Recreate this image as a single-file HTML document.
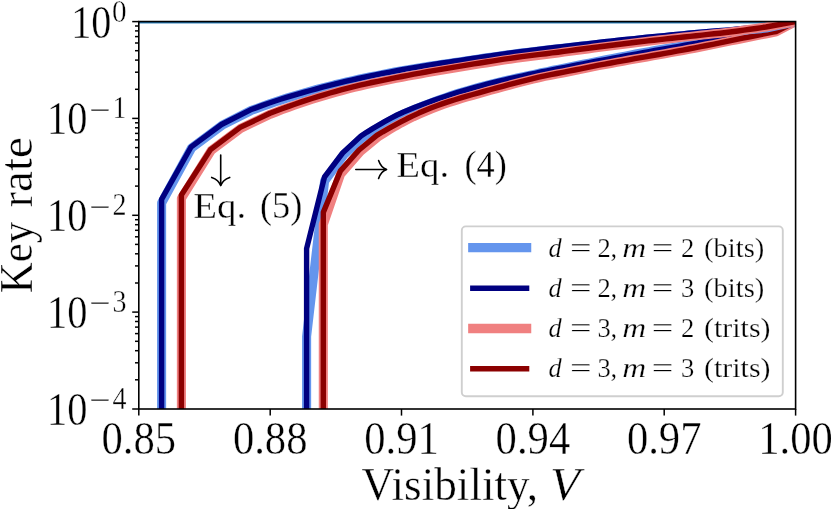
<!DOCTYPE html>
<html><head><meta charset="utf-8"><title>Key rate vs visibility</title>
<style>
html,body{margin:0;padding:0;background:#fff;}
body{width:831px;height:509px;overflow:hidden;position:relative;font-family:"Liberation Serif",serif;}
</style></head><body>
<svg width="831" height="509" viewBox="0 0 831 509" style="position:absolute;left:0;top:0;will-change:transform">
<defs><clipPath id="ax"><rect x="138.8" y="21.6" width="656.8" height="387.4"/></clipPath></defs>
<rect x="0" y="0" width="831" height="509" fill="#fff"/>
<g clip-path="url(#ax)">
<rect x="138.8" y="21.55" width="656.8" height="1.9" fill="#1f77b4"/>
<path d="M306.6 413.0 L306.6 336.4 L324.6 181.0 L344.2 154.4 L362.4 137.6 L368.1 133.9 L374.1 130.2 L380.0 126.7 L386.0 123.2 L392.0 119.9 L397.9 116.8 L403.8 114.0 L409.7 111.4 L415.6 108.9 L421.6 106.6 L427.5 104.2 L433.5 102.0 L439.4 99.8 L445.4 97.7 L451.3 95.6 L457.3 93.7 L463.3 91.8 L469.3 90.1 L475.3 88.4 L481.3 86.7 L487.3 85.2 L493.2 83.6 L499.2 82.2 L505.2 80.8 L511.2 79.4 L517.2 78.0 L523.2 76.7 L529.2 75.4 L535.2 74.1 L541.2 72.8 L547.2 71.6 L553.1 70.3 L559.1 69.1 L565.1 67.9 L571.1 66.7 L577.1 65.5 L583.1 64.3 L589.1 63.1 L595.1 61.9 L601.1 60.7 L607.1 59.6 L613.0 58.4 L619.0 57.3 L625.0 56.1 L631.0 55.0 L637.0 53.8 L643.0 52.7 L649.0 51.7 L655.0 50.6 L661.0 49.6 L667.0 48.5 L673.0 47.5 L679.0 46.5 L685.0 45.4 L691.0 44.4 L697.1 43.4 L703.1 42.3 L709.1 41.2 L715.1 40.1 L721.1 39.0 L727.1 37.9 L733.1 36.8 L739.1 35.7 L745.1 34.7 L751.0 33.7 L757.0 32.7 L763.0 31.7 L769.0 30.8 L775.0 29.9 L777.6 29.4 L795.6 21.6" fill="none" stroke="#6495ED" stroke-width="9.1" stroke-linejoin="round" stroke-linecap="square"/>
<path d="M306.6 413.0 L306.6 248.6 L324.5 177.0 L342.6 153.0 L361.0 136.0 L367.0 132.1 L373.0 128.4 L379.0 124.9 L385.0 121.4 L391.0 118.1 L397.0 115.0 L403.0 112.2 L409.0 109.7 L415.0 107.3 L421.0 105.0 L427.0 102.8 L433.0 100.6 L439.0 98.5 L445.0 96.5 L451.0 94.5 L457.0 92.7 L463.0 90.9 L469.0 89.1 L475.0 87.4 L481.0 85.8 L487.0 84.2 L493.0 82.7 L499.0 81.2 L505.0 79.8 L511.0 78.4 L517.0 77.1 L523.0 75.8 L529.0 74.5 L535.0 73.3 L541.0 72.0 L547.0 70.8 L553.0 69.6 L559.0 68.4 L565.0 67.3 L571.0 66.1 L577.0 65.0 L583.0 63.8 L589.0 62.7 L595.0 61.5 L601.0 60.4 L607.0 59.3 L613.0 58.2 L619.0 57.1 L625.0 56.0 L631.0 54.9 L637.0 53.8 L643.0 52.7 L649.0 51.6 L655.0 50.5 L661.0 49.5 L667.0 48.4 L673.0 47.3 L679.0 46.3 L685.0 45.2 L691.0 44.1 L697.0 43.1 L703.0 42.0 L709.0 40.9 L715.0 39.8 L721.0 38.7 L727.0 37.6 L733.0 36.5 L739.0 35.4 L745.0 34.4 L751.0 33.4 L757.0 32.4 L763.0 31.5 L769.0 30.5 L775.0 29.6 L777.5 29.2 L795.6 21.6" fill="none" stroke="#000080" stroke-width="5.4" stroke-linejoin="round" stroke-linecap="square"/>
<path d="M323.3 413.0 L323.3 224.5 L340.5 174.2 L360.3 151.4 L377.9 136.9 L383.6 133.3 L389.5 129.7 L395.4 126.2 L401.3 122.9 L407.3 119.8 L413.3 116.8 L419.2 114.1 L425.2 111.5 L431.2 109.0 L437.1 106.7 L443.1 104.5 L449.1 102.5 L455.1 100.6 L461.1 98.7 L467.0 97.0 L473.0 95.3 L479.0 93.6 L485.0 91.9 L491.0 90.2 L497.0 88.6 L503.0 86.9 L509.0 85.3 L515.0 83.7 L520.9 82.2 L526.9 80.7 L532.9 79.2 L538.9 77.8 L544.9 76.4 L550.9 75.2 L556.9 74.0 L562.9 72.9 L568.9 71.7 L574.9 70.5 L580.9 69.3 L586.9 68.0 L592.9 66.8 L598.9 65.6 L604.9 64.5 L610.9 63.4 L616.9 62.3 L622.9 61.2 L628.9 60.1 L634.9 59.1 L640.9 58.0 L646.9 56.9 L652.9 55.8 L658.9 54.8 L664.9 53.7 L670.9 52.6 L676.9 51.5 L682.9 50.4 L688.9 49.3 L694.9 48.2 L700.9 47.0 L706.9 45.8 L712.9 44.6 L718.9 43.4 L724.9 42.1 L730.9 40.9 L736.9 39.7 L742.9 38.5 L748.9 37.3 L754.9 36.1 L760.9 34.9 L766.9 33.7 L772.9 32.5 L776.3 31.8 L795.6 21.6" fill="none" stroke="#F08080" stroke-width="9.1" stroke-linejoin="round" stroke-linecap="square"/>
<path d="M323.3 413.0 L323.3 212.4 L340.4 170.9 L359.0 150.0 L376.8 135.4 L382.8 131.8 L388.8 128.4 L394.8 125.1 L400.8 121.9 L406.8 118.8 L412.8 115.9 L418.8 113.1 L424.8 110.5 L430.8 108.1 L436.8 105.8 L442.8 103.6 L448.8 101.6 L454.8 99.7 L460.8 97.9 L466.8 96.1 L472.8 94.5 L478.8 92.8 L484.8 91.1 L490.8 89.5 L496.8 87.9 L502.8 86.3 L508.8 84.7 L514.8 83.1 L520.8 81.6 L526.8 80.1 L532.8 78.6 L538.8 77.2 L544.8 75.9 L550.8 74.7 L556.8 73.5 L562.8 72.4 L568.8 71.2 L574.8 70.0 L580.8 68.8 L586.8 67.6 L592.8 66.4 L598.8 65.2 L604.8 64.1 L610.8 63.0 L616.8 61.9 L622.8 60.9 L628.8 59.8 L634.8 58.7 L640.8 57.7 L646.8 56.6 L652.8 55.5 L658.8 54.5 L664.8 53.4 L670.8 52.3 L676.8 51.2 L682.8 50.1 L688.8 49.0 L694.8 47.9 L700.8 46.7 L706.8 45.5 L712.8 44.3 L718.8 43.1 L724.8 41.9 L730.8 40.6 L736.8 39.4 L742.8 38.2 L748.8 37.0 L754.8 35.8 L760.8 34.6 L766.8 33.4 L772.8 32.2 L776.2 31.5 L795.6 21.6" fill="none" stroke="#8B0000" stroke-width="5.4" stroke-linejoin="round" stroke-linecap="square"/>
<path d="M161.6 413.0 L161.6 203.0 L191.7 147.8 L222.0 125.3 L250.9 110.6 L256.8 108.4 L262.8 106.2 L268.8 104.1 L274.8 102.0 L280.7 100.1 L286.7 98.2 L292.7 96.3 L298.7 94.5 L304.7 92.8 L310.7 91.2 L316.7 89.5 L322.7 87.9 L328.7 86.4 L334.7 84.8 L340.7 83.4 L346.7 82.0 L352.7 80.6 L358.7 79.3 L364.7 78.0 L370.7 76.8 L376.7 75.6 L382.7 74.4 L388.7 73.2 L394.7 72.1 L400.7 71.0 L406.7 70.0 L412.7 69.0 L418.7 68.0 L424.7 67.0 L430.7 66.1 L436.7 65.2 L442.7 64.3 L448.7 63.4 L454.7 62.6 L460.7 61.7 L466.7 60.8 L472.7 59.9 L478.7 59.0 L484.7 58.1 L490.7 57.2 L496.7 56.4 L502.7 55.5 L508.7 54.7 L514.7 53.9 L520.7 53.1 L526.7 52.4 L532.7 51.7 L538.7 51.0 L544.7 50.3 L550.7 49.6 L556.7 48.9 L562.7 48.2 L568.7 47.6 L574.7 46.9 L580.7 46.2 L586.7 45.6 L592.7 44.9 L598.7 44.3 L604.7 43.6 L610.7 43.0 L616.7 42.4 L622.7 41.7 L628.7 41.1 L634.7 40.5 L640.7 39.9 L646.7 39.3 L652.7 38.7 L658.7 38.1 L664.7 37.5 L670.7 36.9 L676.7 36.3 L682.7 35.7 L688.7 35.1 L694.7 34.6 L700.6 34.0 L706.6 33.5 L712.6 33.0 L718.6 32.5 L724.6 32.0 L730.6 31.5 L736.6 31.0 L742.6 30.4 L748.7 29.8 L754.7 29.2 L760.7 28.6 L766.2 28.0 L795.6 21.6" fill="none" stroke="#6495ED" stroke-width="9.1" stroke-linejoin="round" stroke-linecap="square"/>
<path d="M161.6 413.0 L161.6 199.4 L190.9 147.2 L221.5 124.5 L250.5 109.8 L256.5 107.6 L262.5 105.4 L268.5 103.3 L274.5 101.3 L280.5 99.3 L286.5 97.4 L292.5 95.6 L298.5 93.9 L304.5 92.1 L310.5 90.5 L316.5 88.8 L322.5 87.2 L328.5 85.6 L334.5 84.1 L340.5 82.6 L346.5 81.2 L352.5 79.8 L358.5 78.5 L364.5 77.2 L370.5 75.9 L376.5 74.7 L382.5 73.4 L388.5 72.3 L394.5 71.1 L400.5 70.0 L406.5 68.9 L412.5 67.9 L418.5 66.9 L424.5 65.9 L430.5 64.9 L436.5 64.0 L442.5 63.0 L448.5 62.1 L454.5 61.2 L460.5 60.3 L466.5 59.4 L472.5 58.5 L478.5 57.6 L484.5 56.7 L490.5 55.8 L496.5 55.0 L502.5 54.1 L508.5 53.3 L514.5 52.5 L520.5 51.7 L526.5 51.0 L532.5 50.2 L538.5 49.5 L544.5 48.8 L550.5 48.0 L556.5 47.3 L562.5 46.6 L568.5 45.9 L574.5 45.2 L580.5 44.5 L586.5 43.9 L592.5 43.2 L598.5 42.5 L604.5 41.8 L610.5 41.1 L616.5 40.5 L622.5 39.8 L628.5 39.2 L634.5 38.6 L640.5 37.9 L646.5 37.3 L652.5 36.7 L658.5 36.1 L664.5 35.6 L670.5 35.0 L676.5 34.4 L682.5 33.9 L688.5 33.3 L694.5 32.8 L700.5 32.3 L706.5 31.8 L712.5 31.3 L718.5 30.8 L724.5 30.4 L730.5 29.9 L736.5 29.3 L742.5 28.8 L748.5 28.2 L754.5 27.6 L760.5 27.1 L766.0 26.5 L795.6 21.6" fill="none" stroke="#000080" stroke-width="5.4" stroke-linejoin="round" stroke-linecap="square"/>
<path d="M181.4 413.0 L181.4 198.3 L211.3 150.3 L240.7 128.3 L270.4 114.2 L276.3 111.9 L282.3 109.6 L288.3 107.4 L294.3 105.3 L300.3 103.3 L306.3 101.3 L312.3 99.3 L318.2 97.4 L324.2 95.6 L330.2 93.8 L336.2 92.1 L342.2 90.5 L348.2 88.9 L354.2 87.4 L360.2 86.0 L366.2 84.6 L372.2 83.3 L378.2 82.0 L384.2 80.8 L390.1 79.6 L396.1 78.4 L402.1 77.2 L408.1 76.1 L414.1 75.0 L420.1 73.9 L426.1 72.8 L432.1 71.7 L438.1 70.7 L444.1 69.7 L450.1 68.7 L456.1 67.7 L462.1 66.7 L468.1 65.7 L474.1 64.8 L480.1 63.8 L486.1 62.9 L492.1 61.9 L498.1 61.0 L504.1 60.1 L510.1 59.2 L516.1 58.3 L522.1 57.5 L528.1 56.7 L534.1 56.0 L540.1 55.2 L546.1 54.5 L552.1 53.7 L558.1 52.9 L564.1 52.1 L570.1 51.3 L576.1 50.5 L582.1 49.7 L588.1 48.9 L594.1 48.1 L600.1 47.3 L606.1 46.5 L612.1 45.8 L618.1 45.0 L624.1 44.2 L630.1 43.4 L636.0 42.7 L642.0 42.0 L648.0 41.2 L654.0 40.5 L660.0 39.8 L666.0 39.2 L672.0 38.5 L678.0 37.8 L684.0 37.1 L690.0 36.4 L696.0 35.8 L702.0 35.1 L708.0 34.4 L714.0 33.8 L720.0 33.2 L726.0 32.5 L732.0 31.8 L738.0 31.0 L744.0 30.1 L750.0 29.3 L756.0 28.5 L762.0 27.6 L766.0 27.0 L795.6 21.6" fill="none" stroke="#F08080" stroke-width="9.1" stroke-linejoin="round" stroke-linecap="square"/>
<path d="M181.4 413.0 L181.4 195.0 L210.5 149.6 L240.2 127.4 L270.0 113.3 L276.0 111.0 L282.0 108.8 L288.0 106.6 L294.0 104.5 L300.0 102.4 L306.0 100.4 L312.0 98.5 L318.0 96.6 L324.0 94.8 L330.0 93.0 L336.0 91.3 L342.0 89.7 L348.0 88.1 L354.0 86.6 L360.0 85.2 L366.0 83.8 L372.0 82.5 L378.0 81.3 L384.0 80.1 L390.0 78.9 L396.0 77.7 L402.0 76.5 L408.0 75.4 L414.0 74.2 L420.0 73.1 L426.0 72.0 L432.0 70.9 L438.0 69.9 L444.0 68.9 L450.0 67.9 L456.0 66.9 L462.0 65.9 L468.0 64.9 L474.0 63.9 L480.0 63.0 L486.0 62.0 L492.0 61.1 L498.0 60.2 L504.0 59.2 L510.0 58.3 L516.0 57.5 L522.0 56.6 L528.0 55.9 L534.0 55.1 L540.0 54.4 L546.0 53.7 L552.0 52.9 L558.0 52.2 L564.0 51.4 L570.0 50.6 L576.0 49.8 L582.0 49.0 L588.0 48.3 L594.0 47.5 L600.0 46.8 L606.0 46.0 L612.0 45.2 L618.0 44.5 L624.0 43.7 L630.0 43.0 L636.0 42.3 L642.0 41.6 L648.0 40.9 L654.0 40.2 L660.0 39.6 L666.0 38.9 L672.0 38.3 L678.0 37.6 L684.0 37.0 L690.0 36.4 L696.0 35.7 L702.0 35.1 L708.0 34.4 L714.0 33.8 L720.0 33.2 L726.0 32.5 L732.0 31.8 L738.0 31.0 L744.0 30.1 L750.0 29.3 L756.0 28.5 L762.0 27.6 L766.0 27.0 L795.6 21.6" fill="none" stroke="#8B0000" stroke-width="5.4" stroke-linejoin="round" stroke-linecap="square"/>
</g>
<g stroke="#000" stroke-width="1.5"><line x1="138.8" y1="409.0" x2="138.8" y2="415.6"/><line x1="270.2" y1="409.0" x2="270.2" y2="415.6"/><line x1="401.5" y1="409.0" x2="401.5" y2="415.6"/><line x1="532.9" y1="409.0" x2="532.9" y2="415.6"/><line x1="664.2" y1="409.0" x2="664.2" y2="415.6"/><line x1="795.6" y1="409.0" x2="795.6" y2="415.6"/><line x1="132.2" y1="21.6" x2="138.8" y2="21.6"/><line x1="135.0" y1="89.3" x2="138.8" y2="89.3"/><line x1="135.0" y1="72.2" x2="138.8" y2="72.2"/><line x1="135.0" y1="60.1" x2="138.8" y2="60.1"/><line x1="135.0" y1="50.7" x2="138.8" y2="50.7"/><line x1="135.0" y1="43.0" x2="138.8" y2="43.0"/><line x1="135.0" y1="36.6" x2="138.8" y2="36.6"/><line x1="135.0" y1="30.9" x2="138.8" y2="30.9"/><line x1="135.0" y1="26.0" x2="138.8" y2="26.0"/><line x1="132.2" y1="118.4" x2="138.8" y2="118.4"/><line x1="135.0" y1="186.1" x2="138.8" y2="186.1"/><line x1="135.0" y1="169.1" x2="138.8" y2="169.1"/><line x1="135.0" y1="157.0" x2="138.8" y2="157.0"/><line x1="135.0" y1="147.6" x2="138.8" y2="147.6"/><line x1="135.0" y1="139.9" x2="138.8" y2="139.9"/><line x1="135.0" y1="133.4" x2="138.8" y2="133.4"/><line x1="135.0" y1="127.8" x2="138.8" y2="127.8"/><line x1="135.0" y1="122.8" x2="138.8" y2="122.8"/><line x1="132.2" y1="215.3" x2="138.8" y2="215.3"/><line x1="135.0" y1="283.0" x2="138.8" y2="283.0"/><line x1="135.0" y1="265.9" x2="138.8" y2="265.9"/><line x1="135.0" y1="253.8" x2="138.8" y2="253.8"/><line x1="135.0" y1="244.4" x2="138.8" y2="244.4"/><line x1="135.0" y1="236.8" x2="138.8" y2="236.8"/><line x1="135.0" y1="230.3" x2="138.8" y2="230.3"/><line x1="135.0" y1="224.7" x2="138.8" y2="224.7"/><line x1="135.0" y1="219.7" x2="138.8" y2="219.7"/><line x1="132.2" y1="312.1" x2="138.8" y2="312.1"/><line x1="135.0" y1="379.8" x2="138.8" y2="379.8"/><line x1="135.0" y1="362.8" x2="138.8" y2="362.8"/><line x1="135.0" y1="350.7" x2="138.8" y2="350.7"/><line x1="135.0" y1="341.3" x2="138.8" y2="341.3"/><line x1="135.0" y1="333.6" x2="138.8" y2="333.6"/><line x1="135.0" y1="327.1" x2="138.8" y2="327.1"/><line x1="135.0" y1="321.5" x2="138.8" y2="321.5"/><line x1="135.0" y1="316.6" x2="138.8" y2="316.6"/><line x1="132.2" y1="409.0" x2="138.8" y2="409.0"/></g>
<rect x="138.80" y="21.55" width="656.80" height="387.45" fill="none" stroke="#000" stroke-width="1.6"/>
<rect x="461.8" y="226.4" width="321.0" height="169.8" rx="4" ry="4" fill="#fff" fill-opacity="0.8" stroke="#cfcfcf" stroke-width="1.9"/>
<line x1="472.8" y1="247.6" x2="526.6" y2="247.6" stroke="#6495ED" stroke-width="9.3" stroke-linecap="square"/>
<g font-family="'Liberation Serif', serif" font-size="26.5" fill="#000" stroke="#fff" stroke-width="0.25"><text x="548.6" y="256.7" font-style="italic">d</text><text x="570.0" y="256.7" textLength="21.6" lengthAdjust="spacingAndGlyphs">=</text><text x="597.4" y="256.7">2</text><text x="610.6" y="256.7">,</text><text x="622.3" y="256.7" font-style="italic" textLength="24" lengthAdjust="spacingAndGlyphs">m</text><text x="651.8" y="256.7" textLength="21.6" lengthAdjust="spacingAndGlyphs">=</text><text x="680.9" y="256.7">2</text><text x="704.0" y="256.7" textLength="60.4" lengthAdjust="spacingAndGlyphs">(bits)</text></g>
<line x1="472.8" y1="288.2" x2="526.6" y2="288.2" stroke="#000080" stroke-width="5.4" stroke-linecap="square"/>
<g font-family="'Liberation Serif', serif" font-size="26.5" fill="#000" stroke="#fff" stroke-width="0.25"><text x="548.6" y="297.0" font-style="italic">d</text><text x="570.0" y="297.0" textLength="21.6" lengthAdjust="spacingAndGlyphs">=</text><text x="597.4" y="297.0">2</text><text x="610.6" y="297.0">,</text><text x="622.3" y="297.0" font-style="italic" textLength="24" lengthAdjust="spacingAndGlyphs">m</text><text x="651.8" y="297.0" textLength="21.6" lengthAdjust="spacingAndGlyphs">=</text><text x="680.9" y="297.0">3</text><text x="704.0" y="297.0" textLength="60.4" lengthAdjust="spacingAndGlyphs">(bits)</text></g>
<line x1="472.8" y1="328.5" x2="526.6" y2="328.5" stroke="#F08080" stroke-width="9.3" stroke-linecap="square"/>
<g font-family="'Liberation Serif', serif" font-size="26.5" fill="#000" stroke="#fff" stroke-width="0.25"><text x="548.6" y="337.2" font-style="italic">d</text><text x="570.0" y="337.2" textLength="21.6" lengthAdjust="spacingAndGlyphs">=</text><text x="597.4" y="337.2">3</text><text x="610.6" y="337.2">,</text><text x="622.3" y="337.2" font-style="italic" textLength="24" lengthAdjust="spacingAndGlyphs">m</text><text x="651.8" y="337.2" textLength="21.6" lengthAdjust="spacingAndGlyphs">=</text><text x="680.9" y="337.2">2</text><text x="704.0" y="337.2" textLength="66.5" lengthAdjust="spacingAndGlyphs">(trits)</text></g>
<line x1="472.8" y1="368.8" x2="526.6" y2="368.8" stroke="#8B0000" stroke-width="5.4" stroke-linecap="square"/>
<g font-family="'Liberation Serif', serif" font-size="26.5" fill="#000" stroke="#fff" stroke-width="0.25"><text x="548.6" y="377.2" font-style="italic">d</text><text x="570.0" y="377.2" textLength="21.6" lengthAdjust="spacingAndGlyphs">=</text><text x="597.4" y="377.2">3</text><text x="610.6" y="377.2">,</text><text x="622.3" y="377.2" font-style="italic" textLength="24" lengthAdjust="spacingAndGlyphs">m</text><text x="651.8" y="377.2" textLength="21.6" lengthAdjust="spacingAndGlyphs">=</text><text x="680.9" y="377.2">3</text><text x="704.0" y="377.2" textLength="66.5" lengthAdjust="spacingAndGlyphs">(trits)</text></g>
<g font-family="'Liberation Serif', serif" fill="#000" stroke="#fff" stroke-width="0.35"><text transform="translate(101.5 453.7) scale(1 1.105)" font-size="42.0" text-anchor="start" textLength="74.6" lengthAdjust="spacingAndGlyphs" >0.85</text><text transform="translate(232.9 453.7) scale(1 1.105)" font-size="42.0" text-anchor="start" textLength="74.6" lengthAdjust="spacingAndGlyphs" >0.88</text><text transform="translate(364.2 453.7) scale(1 1.105)" font-size="42.0" text-anchor="start" textLength="74.6" lengthAdjust="spacingAndGlyphs" >0.91</text><text transform="translate(495.6 453.7) scale(1 1.105)" font-size="42.0" text-anchor="start" textLength="74.6" lengthAdjust="spacingAndGlyphs" >0.94</text><text transform="translate(626.9 453.7) scale(1 1.105)" font-size="42.0" text-anchor="start" textLength="74.6" lengthAdjust="spacingAndGlyphs" >0.97</text><text transform="translate(758.3 453.7) scale(1 1.105)" font-size="42.0" text-anchor="start" textLength="74.6" lengthAdjust="spacingAndGlyphs" >1.00</text><text transform="translate(71.2 37.8) scale(1 1.105)" font-size="42.0" text-anchor="start" textLength="40.2" lengthAdjust="spacingAndGlyphs" >10</text><text transform="translate(112.0 22.1) scale(1 1.105)" font-size="29.5" text-anchor="start" textLength="14.6" lengthAdjust="spacingAndGlyphs" >0</text><text transform="translate(47.0 134.4) scale(1 1.105)" font-size="42.0" text-anchor="start" textLength="40.4" lengthAdjust="spacingAndGlyphs" >10</text><text transform="translate(89.0 120.6) scale(1 1.105)" font-size="29.5" text-anchor="start" textLength="21.6" lengthAdjust="spacingAndGlyphs" >−</text><text transform="translate(112.6 118.1) scale(1 1.105)" font-size="29.5" text-anchor="start" textLength="14.0" lengthAdjust="spacingAndGlyphs" >1</text><text transform="translate(47.0 231.3) scale(1 1.105)" font-size="42.0" text-anchor="start" textLength="40.4" lengthAdjust="spacingAndGlyphs" >10</text><text transform="translate(89.0 217.5) scale(1 1.105)" font-size="29.5" text-anchor="start" textLength="21.6" lengthAdjust="spacingAndGlyphs" >−</text><text transform="translate(112.6 215.0) scale(1 1.105)" font-size="29.5" text-anchor="start" textLength="14.0" lengthAdjust="spacingAndGlyphs" >2</text><text transform="translate(47.0 328.1) scale(1 1.105)" font-size="42.0" text-anchor="start" textLength="40.4" lengthAdjust="spacingAndGlyphs" >10</text><text transform="translate(89.0 314.3) scale(1 1.105)" font-size="29.5" text-anchor="start" textLength="21.6" lengthAdjust="spacingAndGlyphs" >−</text><text transform="translate(112.6 311.8) scale(1 1.105)" font-size="29.5" text-anchor="start" textLength="14.0" lengthAdjust="spacingAndGlyphs" >3</text><text transform="translate(47.0 425.0) scale(1 1.105)" font-size="42.0" text-anchor="start" textLength="40.4" lengthAdjust="spacingAndGlyphs" >10</text><text transform="translate(89.0 411.2) scale(1 1.105)" font-size="29.5" text-anchor="start" textLength="21.6" lengthAdjust="spacingAndGlyphs" >−</text><text transform="translate(112.6 408.7) scale(1 1.105)" font-size="29.5" text-anchor="start" textLength="14.0" lengthAdjust="spacingAndGlyphs" >4</text><text transform="translate(361.6 499.5) scale(1 1.105)" font-size="42.0" text-anchor="start" textLength="176.5" lengthAdjust="spacingAndGlyphs" >Visibility,</text><text transform="translate(550.0 499.5) scale(1 1.105)" font-size="42.0" text-anchor="start" textLength="30.0" lengthAdjust="spacingAndGlyphs" font-style="italic">V</text><text transform="translate(32.0 293.3) rotate(-90) scale(1 1.105)" font-size="42.0" textLength="71.5" lengthAdjust="spacingAndGlyphs">Key</text><text transform="translate(32.0 207.6) rotate(-90) scale(1 1.105)" font-size="42.0" textLength="70.6" lengthAdjust="spacingAndGlyphs">rate</text><text transform="translate(193.2 218.0) scale(1 1.000)" font-size="36.0" text-anchor="start" textLength="53.0" lengthAdjust="spacingAndGlyphs" >Eq.</text><text transform="translate(260.0 218.0) scale(1 1.040)" font-size="36.0" text-anchor="start" textLength="42.4" lengthAdjust="spacingAndGlyphs" >(5)</text><text transform="translate(396.2 177.2) scale(1 1.000)" font-size="36.0" text-anchor="start" textLength="53.0" lengthAdjust="spacingAndGlyphs" >Eq.</text><text transform="translate(464.4 177.2) scale(1 1.040)" font-size="36.0" text-anchor="start" textLength="42.4" lengthAdjust="spacingAndGlyphs" >(4)</text></g>
<g fill="none" stroke="#000" stroke-width="1.6" stroke-linecap="round" stroke-linejoin="round"><path d="M220.7 155.0 L220.7 185.2"/><path d="M211.7 177.4 C216.4 179.0 219.5 182.0 220.7 185.6 C221.9 182.0 225.0 179.0 229.7 177.4"/><path d="M355.8 169.5 L386.2 169.5"/><path d="M378.6 160.5 C380.2 165.2 383.0 168.3 386.6 169.5 C383.0 170.7 380.2 173.8 378.6 178.5"/></g>
</svg>
</body></html>
